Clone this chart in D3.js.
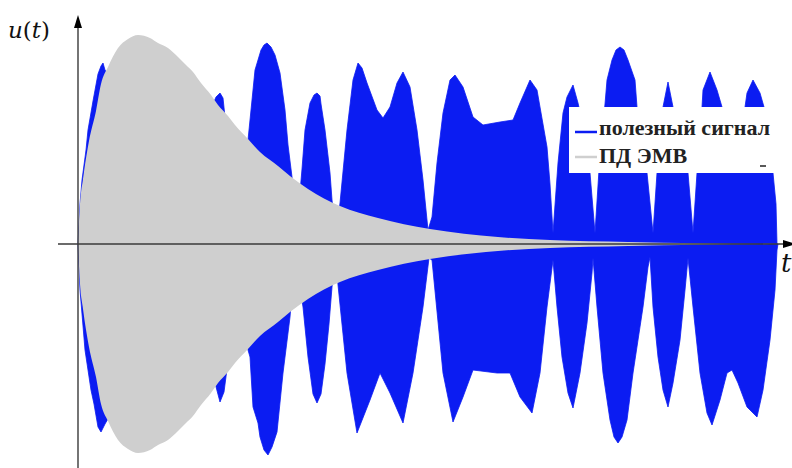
<!DOCTYPE html>
<html>
<head>
<meta charset="utf-8">
<script src="https://cdn.jsdelivr.net/npm/d3@7"></script>
<style>
  html, body { margin: 0; padding: 0; background: #fff; }
  svg { display: block; }
</style>
</head>
<body>
<div id="chart"></div>
<script>
// time in samples, amplitude in arbitrary units
const signalTopT = [0, 2, 4, 8, 10, 15, 20, 23, 25, 27, 50, 75, 95, 115, 130, 138, 142, 145, 147, 152, 160,
  165, 170, 177, 183, 186, 189, 193, 197, 202, 207, 210, 214, 218, 221, 224, 227, 232, 236, 239, 242, 243, 247, 252, 254, 258,
  262, 269, 275, 280, 284, 289, 299, 305, 312, 319, 325, 332, 339, 345, 350,
  354, 359, 365, 372, 377, 385, 395, 405, 422, 435, 442, 452, 459, 469, 472, 475,
  480, 485, 489, 495, 500, 507, 512, 517,
  522, 527, 529, 534, 538, 542, 546, 550, 557, 559, 569, 575,
  579, 585, 590, 595, 610, 615,
  619, 624, 625, 632, 639, 644, 654, 667, 669, 675, 682, 686, 695, 698, 699];
const signalTopU = [0, 40, 64, 94, 114, 143, 170, 178, 181, 174, 140, 70, 12, 80, 128, 147, 151, 146, 127, 90, 12,
  60, 104, 174, 194, 199, 201, 197, 189, 171, 134, 99, 67, 11, 40, 75, 114, 141, 149, 151, 148, 140, 114, 71, 44, 11,
  41, 114, 164, 181, 176, 161, 134, 126, 137, 161, 172, 157, 114, 64, 14,
  27, 81, 131, 164, 169, 157, 127, 119, 122, 124, 141, 164, 154, 97, 60, 11,
  81, 131, 147, 159, 141, 110, 71, 11,
  90, 140, 164, 184, 194, 197, 194, 184, 164, 137, 71, 11,
  71, 137, 162, 137, 71, 11,
  71, 137, 154, 172, 154, 137, 120, 137, 151, 164, 151, 137, 71, 40, 0];

const signalBottomT = [0, 2, 7, 13, 16, 20, 23, 27, 50, 75, 95, 115, 132, 137, 142, 146, 149, 154, 160,
  165, 170, 172, 175, 180, 182, 186, 190, 194, 199, 205, 212, 217,
  225, 230, 235, 239, 243, 247, 251, 254, 258,
  260, 269, 279, 292, 302, 312, 325, 335, 345, 351,
  354, 365, 375, 385, 395, 419, 432, 442, 454, 462, 469, 475,
  479, 484, 490, 495, 502, 509, 514, 515,
  519, 525, 532, 536, 540, 544, 549, 555, 565, 570, 572,
  575, 580, 585, 590, 595, 602, 607, 610,
  615, 622, 629, 634, 642, 649, 654, 660, 669, 679, 685, 692, 697, 699, 700];
const signalBottomU = [0, -46, -106, -146, -160, -183, -188, -180, -140, -70, -12, -80, -120, -139, -158, -148, -125, -70, -12,
  -60, -106, -113, -163, -179, -193, -206, -211, -203, -188, -129, -73, -12,
  -63, -113, -150, -159, -150, -120, -80, -43, -12,
  -41, -129, -189, -156, -129, -149, -179, -129, -63, -14,
  -16, -129, -178, -153, -126, -129, -129, -153, -169, -129, -63, -16,
  -63, -113, -149, -164, -129, -79, -29, -14,
  -63, -129, -176, -193, -199, -193, -176, -129, -63, -23, -13,
  -63, -113, -146, -163, -139, -96, -46, -14,
  -63, -129, -169, -181, -156, -129, -126, -139, -163, -173, -146, -96, -46, -6, 0];

// interference pulse envelope (symmetric)
const pulseT = [0, 2, 5, 11, 18, 23, 30, 40, 50, 60, 72, 80, 90, 100, 108, 115, 123, 133, 140, 150, 157, 170,
  182, 200, 212, 230, 262, 300, 352, 420, 472, 550, 622, 700];
const pulseU = [0, 40, 65, 103, 133, 160, 177, 196, 205, 209, 206, 201, 196, 187, 179, 172, 161, 149, 139, 128, 119, 105,
  92, 78, 68, 55, 38, 26, 15, 7, 4, 2, 0.8, 0];

const legendLabels = ['полезный сигнал', 'ПД ЭМВ'];
const legendColors = ['#0b1cf2', '#cfcfcf'];

const width = 792;
const height = 468;

const zip = (ts, us) => ts.map((t, i) => ({t: t, u: us[i]}));

const svg = d3.select('#chart').append('svg')
  .attr('width', width)
  .attr('height', height);

const xScale = d3.scaleLinear()
  .domain([0, 712])
  .range([78, 790]);
const yScale = d3.scaleLinear()
  .domain([-230, 230])
  .range([474, 14]);

const area = d3.area()
  .curve(d3.curveLinear)
  .x(d => xScale(d.t))
  .y0(yScale(0))
  .y1(d => yScale(d.u));

svg.append('path')
  .datum(zip(signalTopT, signalTopU))
  .attr('fill', legendColors[0])
  .attr('stroke', legendColors[0])
  .attr('stroke-width', 0.8)
  .attr('d', area);
svg.append('path')
  .datum(zip(signalBottomT, signalBottomU))
  .attr('fill', legendColors[0])
  .attr('stroke', legendColors[0])
  .attr('stroke-width', 0.8)
  .attr('d', area);

const pulseArea = d3.area()
  .curve(d3.curveMonotoneX)
  .x(d => xScale(d.t))
  .y0(d => yScale(-d.u))
  .y1(d => yScale(d.u));
svg.append('path')
  .datum(zip(pulseT, pulseU))
  .attr('fill', legendColors[1])
  .attr('d', pulseArea);

// legend
const legend = svg.append('g').attr('transform', 'translate(569, 107)');
legend.append('rect')
  .attr('width', 206)
  .attr('height', 66)
  .attr('fill', '#fff');
legendLabels.forEach((label, i) => {
  legend.append('line')
    .attr('x1', 6).attr('x2', 28)
    .attr('y1', 25 + i * 25).attr('y2', 25 + i * 25)
    .attr('stroke', legendColors[i])
    .attr('stroke-width', 2.5);
  legend.append('text')
    .attr('x', 30)
    .attr('y', 28 + i * 28)
    .style('font-family', '"Liberation Serif", "Times New Roman", serif')
    .style('font-weight', 'bold')
    .style('font-size', '22px')
    .attr('fill', '#222')
    .text(label);
});
legend.append('line')
  .attr('x1', 191).attr('x2', 197)
  .attr('y1', 59).attr('y2', 59)
  .attr('stroke', '#222')
  .attr('stroke-width', 1.5);

// axes with arrows
const axisColor = '#3a3a3a';
svg.append('line')
  .attr('x1', 58).attr('x2', 786)
  .attr('y1', yScale(0)).attr('y2', yScale(0))
  .attr('stroke', axisColor)
  .attr('stroke-width', 1.4);
svg.append('line')
  .attr('x1', xScale(0)).attr('x2', xScale(0))
  .attr('y1', height).attr('y2', 22)
  .attr('stroke', axisColor)
  .attr('stroke-width', 1.4);
svg.append('path')
  .attr('d', `M${xScale(0)},15 L${xScale(0) - 4},28 L${xScale(0) + 4},28 Z`)
  .attr('fill', '#000');
svg.append('path')
  .attr('d', `M796,${yScale(0)} L783,${yScale(0) - 4} L783,${yScale(0) + 4} Z`)
  .attr('fill', '#000');

const label = svg.append('text')
  .attr('x', 8)
  .attr('y', 38)
  .style('font-family', '"DejaVu Serif", serif')
  .style('font-size', '23px')
  .attr('fill', '#111');
label.append('tspan').style('font-style', 'italic').text('u');
label.append('tspan').text('(');
label.append('tspan').style('font-style', 'italic').text('t');
label.append('tspan').text(')');

svg.append('text')
  .attr('x', 781)
  .attr('y', 272)
  .style('font-family', '"DejaVu Serif", serif')
  .style('font-style', 'italic')
  .style('font-size', '26px')
  .attr('fill', '#111')
  .text('t');
</script>
</body>
</html>
